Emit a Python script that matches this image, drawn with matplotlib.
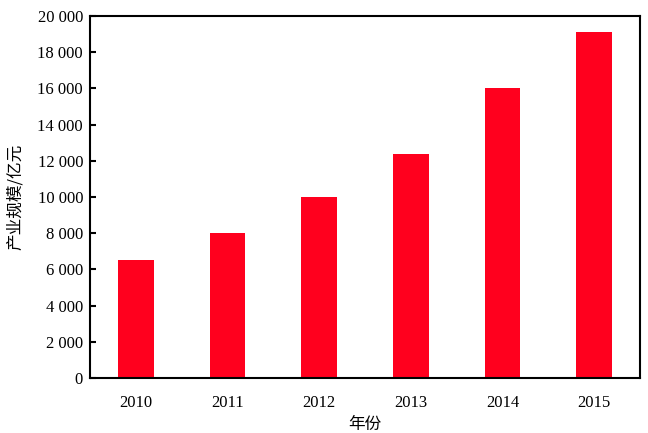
import matplotlib
matplotlib.use("Agg")
import matplotlib.pyplot as plt
from matplotlib.ticker import FuncFormatter

years = ["2010", "2011", "2012", "2013", "2014", "2015"]
scale = [6500, 8000, 10000, 12400, 16000, 19100]

plt.rcParams['font.family'] = ['Liberation Serif', 'Noto Sans CJK SC']

fig = plt.figure(figsize=(6.48, 4.33), dpi=100)
ax = fig.add_axes([90/648, 1-378/433, 550/648, 362/433])

ax.bar(range(len(years)), scale, width=0.39, color='#ff001e')
ax.set_xlim(-0.5, len(years) - 0.5)
ax.set_ylim(0, 20000)
ax.set_yticks(range(0, 20001, 2000))
ax.yaxis.set_major_formatter(FuncFormatter(lambda v, p: f"{int(v):,}".replace(",", " ")))
ax.set_xticks(range(len(years)))
ax.set_xticklabels(years)

ax.tick_params(axis='y', direction='in', length=4, width=1.5, labelsize=12, pad=5)
ax.tick_params(axis='x', length=0, labelsize=12, pad=12)
for s in ax.spines.values():
    s.set_linewidth(1.5)

ax.set_ylabel('产业规模/亿元', family=['Noto Sans CJK SC'], fontsize=12, labelpad=10)
ax.set_xlabel('年份', family=['Noto Sans CJK SC'], fontsize=12, labelpad=4)

fig.savefig('out.png', dpi=100)
